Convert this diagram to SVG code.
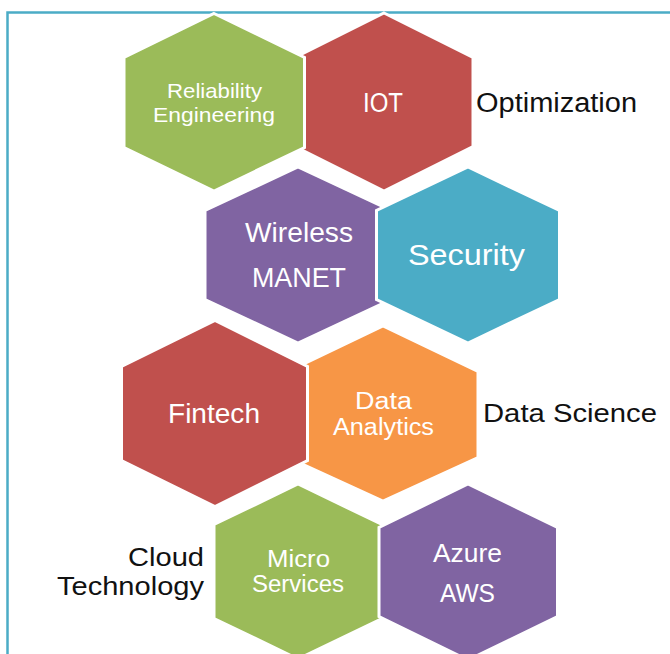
<svg xmlns="http://www.w3.org/2000/svg" width="670" height="654" viewBox="0 0 670 654">
<style>
  .hex { stroke: #FFFFFF; stroke-width: 3; stroke-linejoin: miter; }
  .green { fill: #9BBB59; }
  .red { fill: #C0504D; }
  .purple { fill: #8064A2; }
  .aqua { fill: #4BACC6; }
  .orange { fill: #F79646; }
  text { lengthAdjust: spacingAndGlyphs; }
  .in { fill: #FFFFFF; font-family: "Liberation Sans", Arial, sans-serif; text-anchor: middle; }
  .out { fill: #111111; font-family: "Liberation Sans", Arial, sans-serif; }
</style>
<rect x="7.5" y="12.5" width="720" height="720" fill="none" stroke="#4BACC6" stroke-width="2.5"/>

<g id="iot">
  <polygon class="hex red" points="384,13 473,57.5 473,146.5 384,191 295,146.5 295,57.5"/>
  <text class="in" x="383" y="112" font-size="27" textLength="40" lengthAdjust="spacingAndGlyphs">IOT</text>
</g>
<g id="reliability">
  <polygon class="hex green" points="214,13.5 304.5,57.5 304.5,147.5 214,191 124,147.5 124,57.5"/>
  <text class="in" x="214.5" y="98" font-size="21" textLength="95" lengthAdjust="spacingAndGlyphs">Reliability</text>
  <text class="in" x="214" y="122" font-size="21" textLength="122" lengthAdjust="spacingAndGlyphs">Engineering</text>
</g>
<g id="wireless">
  <polygon class="hex purple" points="298,167 391,210.5 391,299.5 298,343 205,299.5 205,210.5"/>
  <text class="in" x="299" y="242" font-size="27" textLength="108" lengthAdjust="spacingAndGlyphs">Wireless</text>
  <text class="in" x="299" y="287" font-size="27" textLength="94" lengthAdjust="spacingAndGlyphs">MANET</text>
</g>
<g id="security">
  <polygon class="hex aqua" points="468,167 559.5,210.5 559.5,299.5 468,343 376.5,299.5 376.5,210.5"/>
  <text class="in" x="466.5" y="265" font-size="30" textLength="117" lengthAdjust="spacingAndGlyphs">Security</text>
</g>
<g id="data-analytics">
  <polygon class="hex orange" points="383,326 478,371.5 478,457.5 383,501 288,457.5 288,371.5"/>
  <text class="in" x="383.5" y="409" font-size="23" textLength="57" lengthAdjust="spacingAndGlyphs">Data</text>
  <text class="in" x="383.5" y="435" font-size="23" textLength="101" lengthAdjust="spacingAndGlyphs">Analytics</text>
</g>
<g id="fintech">
  <polygon class="hex red" points="215,320.5 307.5,366.5 307.5,460.5 215,506.5 121.5,460.5 121.5,366.5"/>
  <text class="in" x="214" y="423" font-size="27" textLength="92" lengthAdjust="spacingAndGlyphs">Fintech</text>
</g>
<g id="micro-services">
  <polygon class="hex green" points="298,484 382,524.5 382,618.5 298,659 214,618.5 214,524.5"/>
  <text class="in" x="298.5" y="567" font-size="23" textLength="63" lengthAdjust="spacingAndGlyphs">Micro</text>
  <text class="in" x="298" y="592" font-size="23" textLength="92" lengthAdjust="spacingAndGlyphs">Services</text>
</g>
<g id="azure-aws">
  <polygon class="hex purple" points="468,484 557.5,527.5 557.5,616.5 468,660 379,616.5 379,527.5"/>
  <text class="in" x="467.5" y="562" font-size="26" textLength="69" lengthAdjust="spacingAndGlyphs">Azure</text>
  <text class="in" x="467.5" y="602" font-size="26" textLength="55" lengthAdjust="spacingAndGlyphs">AWS</text>
</g>

<g id="label-optimization">
  <text class="out" x="476" y="112" font-size="27" textLength="161" lengthAdjust="spacingAndGlyphs">Optimization</text>
</g>
<g id="label-data-science">
  <text class="out" x="483" y="422" font-size="26" textLength="174" lengthAdjust="spacingAndGlyphs">Data Science</text>
</g>
<g id="label-cloud-technology">
  <text class="out" x="204" y="566" font-size="26" text-anchor="end" textLength="76" lengthAdjust="spacingAndGlyphs">Cloud</text>
  <text class="out" x="204" y="595" font-size="26" text-anchor="end" textLength="147" lengthAdjust="spacingAndGlyphs">Technology</text>
</g>
</svg>
